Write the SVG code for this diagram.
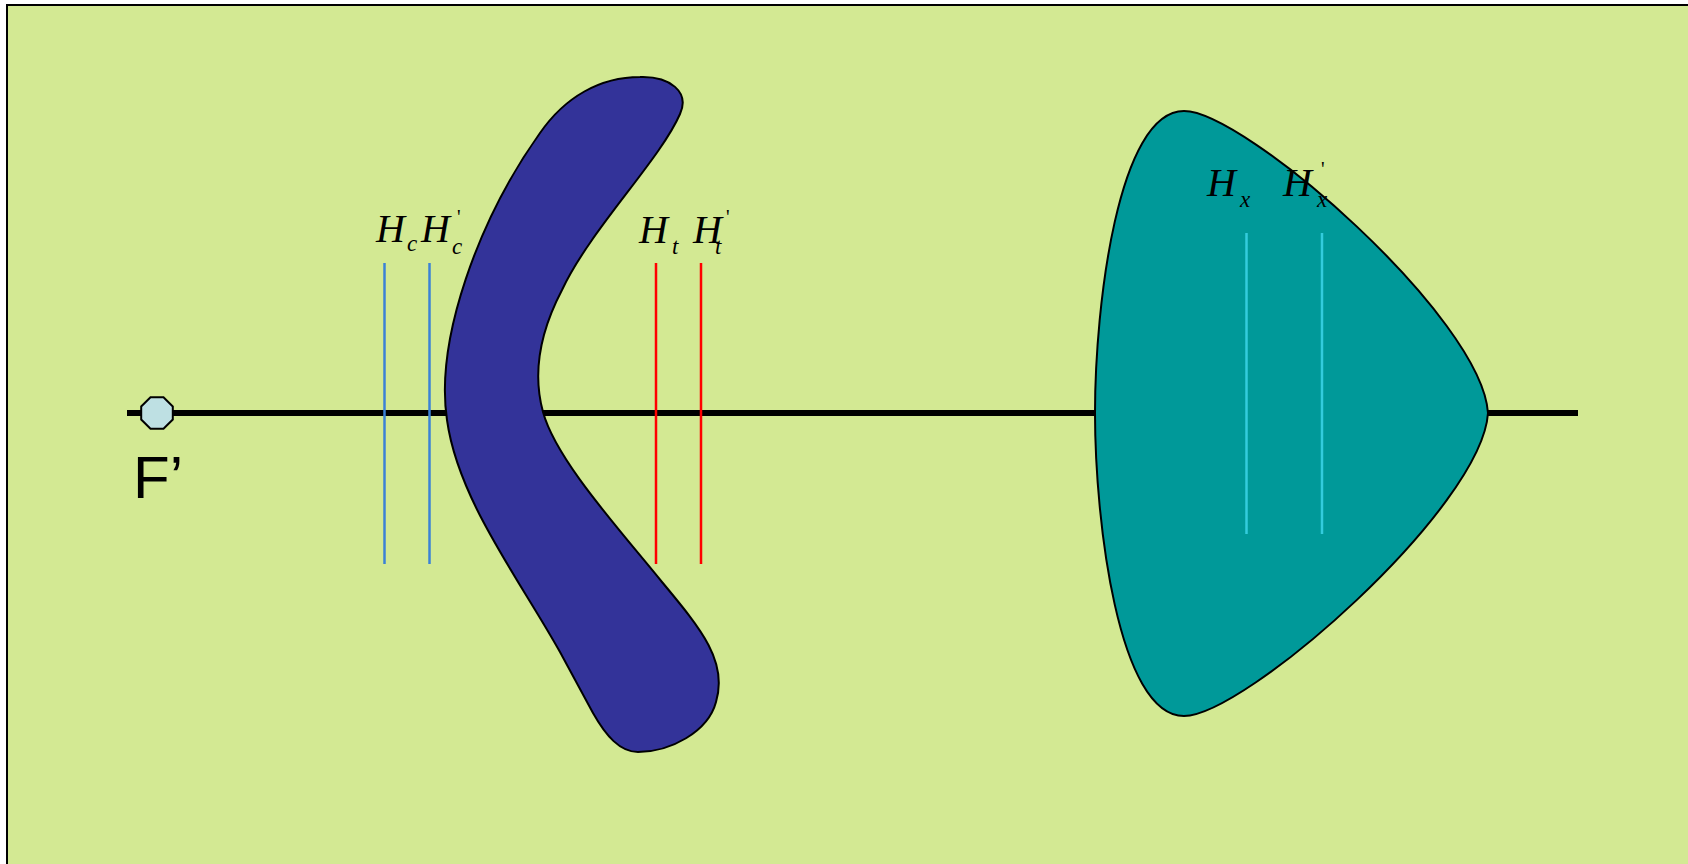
<svg xmlns="http://www.w3.org/2000/svg" width="1688" height="864" viewBox="0 0 1688 864">
<style>
.lbl{font-family:"Liberation Serif","Times New Roman",serif;font-style:italic;fill:#000}
.H{font-size:40px}
.sub{font-size:23px}
.pr{font-family:"Liberation Serif",serif;font-size:20px;fill:#000}
.shape{stroke:#000;stroke-width:2}
.hl{stroke-width:2.5;fill:none}
</style>
<rect x="7" y="5" width="1690" height="870" fill="#D3E993" stroke="#000" stroke-width="2"/>
<g id="connectors">
<line x1="127" y1="413" x2="1578" y2="413" stroke="#000" stroke-width="6"/>
</g>
<g id="lens1">
<path class="shape" fill="#333399" d="M 640,77 C 670,76 690,92 680,114 C 660,160 590,230 562,290 C 540,332 532,372 543,412 C 556,460 620,530 662,582 C 702,630 728,662 716,702 C 708,732 670,752 638,752 C 620,752 606,736 593,713 L 560,652 C 520,580 458,500 447,420 C 435,340 478,220 540,133 C 565,97 600,77 640,77 Z"/>
</g>
<g id="lens2">
<path class="shape" fill="#009999" d="M 1184,111 C 1245,111 1482,318 1488,413 C 1482,508 1245,716 1184,716 C 1118,716 1095,520 1095,413 C 1095,306 1118,111 1184,111 Z"/>
</g>
<g id="focus">
<polygon points="172.8,406.5 163.5,397.2 150.5,397.2 141.2,406.5 141.2,419.5 150.5,428.8 163.5,428.8 172.8,419.5" fill="#BEE0E3" stroke="#000" stroke-width="2"/>
<text x="133" y="498" font-family="Liberation Sans, Arial, sans-serif" font-size="60" fill="#000">F’</text>
</g>
<g id="Hc">
<line class="hl" x1="384.5" y1="263" x2="384.5" y2="564" stroke="#3B82D6"/>
<line class="hl" x1="429.5" y1="263" x2="429.5" y2="564" stroke="#3B82D6"/>
<text class="lbl H" x="376" y="242">H</text>
<text class="lbl sub" x="407" y="251">c</text>
<text class="lbl H" x="421" y="242">H</text>
<text class="lbl sub" x="452" y="254">c</text>
<text class="pr" x="457" y="224">'</text>
</g>
<g id="Ht">
<line class="hl" x1="656" y1="263" x2="656" y2="564" stroke="#FF0000"/>
<line class="hl" x1="701" y1="263" x2="701" y2="564" stroke="#FF0000"/>
<text class="lbl H" x="639" y="243">H</text>
<text class="lbl sub" x="672" y="254">t</text>
<text class="lbl H" x="693" y="243">H</text>
<text class="lbl sub" x="715" y="254">t</text>
<text class="pr" x="726" y="224">'</text>
</g>
<g id="Hx">
<line class="hl" x1="1246.5" y1="233" x2="1246.5" y2="534" stroke="#33CCDD"/>
<line class="hl" x1="1322" y1="233" x2="1322" y2="534" stroke="#33CCDD"/>
<text class="lbl H" x="1207" y="196">H</text>
<text class="lbl sub" x="1240" y="207">x</text>
<text class="lbl H" x="1283" y="196">H</text>
<text class="lbl sub" x="1317" y="207">x</text>
<text class="pr" x="1321" y="176">'</text>
</g>
</svg>
